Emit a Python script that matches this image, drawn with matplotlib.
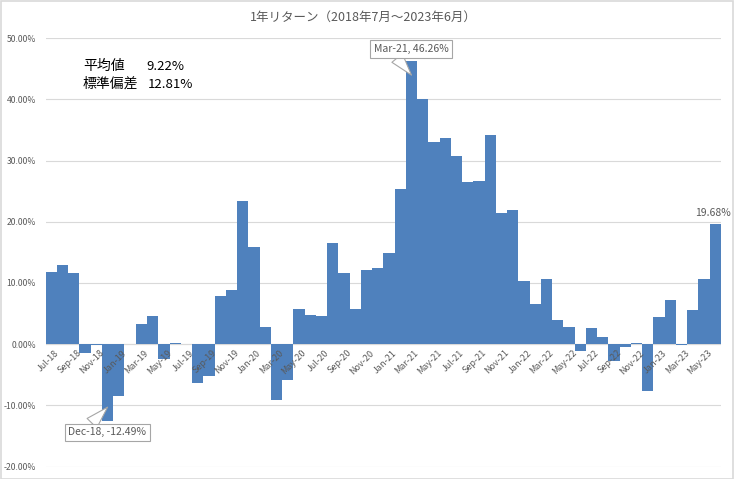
import matplotlib
matplotlib.use("Agg")
import matplotlib.pyplot as plt
import pandas as pd
from matplotlib.patches import Rectangle
from matplotlib.ticker import FuncFormatter

plt.rcParams['font.family'] = ['Noto Sans CJK JP', 'DejaVu Sans']

# monthly 1-year returns (%), Jul-18 .. Jun-23
months = pd.date_range("2018-07-01", "2023-06-01", freq="MS")
month_labels = [d.strftime("%b-%y") for d in months]
returns = [
    11.8, 13.0, 11.65, -1.5, -0.2, -12.49, -8.55, 0.0, 3.37, 4.6, -2.35, 0.2,
    0.0, -6.3, -5.2, 7.9, 8.87, 23.4, 15.9, 2.83, -9.2, -5.9, 5.77, 4.8,
    4.6, 16.5, 11.65, 5.77, 12.1, 12.4, 14.9, 25.4, 46.26, 40.1, 33.05, 33.76,
    30.8, 26.5, 26.7, 34.2, 21.5, 21.9, 10.35, 6.64, 10.67, 3.97, 2.83, -1.05,
    2.66, 1.19, -2.68, -0.55, 0.2, -7.74, 4.46, 7.24, -0.2, 5.6, 10.67, 19.68,
]
mean_val = 9.22
std_val = 12.81
title = "1年リターン（2018年7月～2023年6月）"

bar_color = "#4f81bd"
grid_color = "#d9d9d9"
text_gray = "#595959"

fig = plt.figure(figsize=(7.34, 4.79), dpi=100)
ax = fig.add_axes([45.7 / 734, 1 - 466.5 / 479, (721 - 45.7) / 734, (466.5 - 38.2) / 479])

x = list(range(len(returns)))
ax.bar(x, returns, width=1.0, color=bar_color, zorder=2)

ax.set_xlim(-0.5, len(returns) - 0.5)
ax.set_ylim(-20, 50)
ax.set_yticks(range(-20, 51, 10))
ax.yaxis.set_major_formatter(FuncFormatter(lambda v, p: f"{v:.2f}%"))
ax.tick_params(axis='y', length=0, pad=7, labelsize=6.2, labelcolor=text_gray)
ax.set_xticks([])
ax.grid(axis='y', color=grid_color, lw=0.8, zorder=0)
ax.axhline(0, color=grid_color, lw=0.8, zorder=1)
for s in ax.spines.values():
    s.set_visible(False)

# category labels sit on the zero line, every other month
for i in range(0, len(returns), 2):
    ax.annotate(month_labels[i], xy=(i, 0), xytext=(2, -3), textcoords='offset points',
                rotation=45, rotation_mode='anchor', ha='right', va='top',
                fontsize=6.5, color=text_gray, zorder=3)

# callouts
i_max = returns.index(max(returns))
i_min = returns.index(min(returns))
box = dict(boxstyle='square,pad=0.35', fc='white', ec='#a6a6a6', lw=0.8)
ax.annotate(f"{month_labels[i_max]}, {returns[i_max]:.2f}%", xy=(i_max, returns[i_max] - 2.3),
            xytext=(31.95, 48.25), ha='center', va='center', fontsize=7.5, color=text_gray,
            bbox=box, zorder=5,
            arrowprops=dict(arrowstyle='wedge,tail_width=1.3', fc='white', ec='#a6a6a6',
                            lw=0.8, shrinkA=0, shrinkB=0, relpos=(0.27, 0)))
ax.annotate(f"{month_labels[i_min]}, {returns[i_min]:.2f}%", xy=(i_min, -10.3),
            xytext=(4.99, -14.4), ha='center', va='center', fontsize=7.5, color=text_gray,
            bbox=box, zorder=5,
            arrowprops=dict(arrowstyle='wedge,tail_width=1.3', fc='white', ec='#a6a6a6',
                            lw=0.8, shrinkA=0, shrinkB=0, relpos=(0.25, 1)))
ax.annotate(f"{returns[-1]:.2f}%", xy=(len(returns) - 1, returns[-1]), xytext=(-2, 4),
            textcoords='offset points', ha='center', va='bottom', fontsize=7.5, color=text_gray)

fig.text(0.495, 1 - 17 / 479, title, ha='center', va='center', fontsize=9, color=text_gray)

# stats block
fig.text(83 / 734, 1 - 66 / 479, "平均値", ha='left', va='center', fontsize=10, color='black')
fig.text(146 / 734, 1 - 66 / 479, f"{mean_val:.2f}%", ha='left', va='center', fontsize=9.5, color='black')
fig.text(83 / 734, 1 - 84 / 479, "標準偏差", ha='left', va='center', fontsize=10, color='black')
fig.text(148 / 734, 1 - 84 / 479, f"{std_val:.2f}%", ha='left', va='center', fontsize=9.5, color='black')

fig.add_artist(Rectangle((0.5 / 734, 0.5 / 479), 732.5 / 734, 477.5 / 479, transform=fig.transFigure,
                         fill=False, ec=grid_color, lw=1.2))

fig.savefig("out.png", dpi=100)
